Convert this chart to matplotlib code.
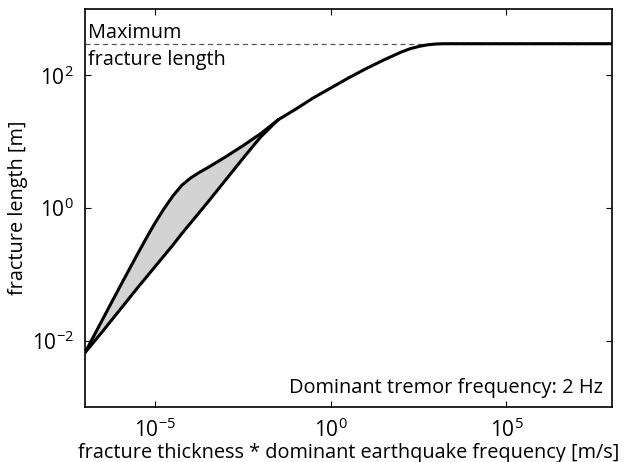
import numpy as np
import matplotlib
matplotlib.use('Agg')
import matplotlib.pyplot as plt

plt.rcParams['font.family'] = ['Open Sans', 'DejaVu Sans']
plt.rcParams['mathtext.default'] = 'regular'

# log10 of (fracture thickness * dominant earthquake frequency), branch part
branch_logx = [-7.0, -6.5, -6.0, -5.5, -5.25, -5.0, -4.75, -4.5, -4.25, -4.0, -3.75, -3.5, -3.0, -2.5, -2.0, -1.5]
# log10 of fracture length, upper and lower branches
upper_logy = [-2.18, -1.68, -1.18, -0.69, -0.45, -0.22, -0.01, 0.18, 0.34, 0.45, 0.535, 0.61, 0.77, 0.94, 1.12, 1.33]
lower_logy = [-2.18, -1.86, -1.53, -1.20, -1.04, -0.88, -0.72, -0.56, -0.39, -0.23, -0.07, 0.09, 0.42, 0.75, 1.07, 1.33]
# common part after the branches join
tail_logx = [-1.5, -1.0, -0.5, 0.0, 0.5, 1.0, 1.5, 1.75, 2.0, 2.25, 2.5, 2.75, 3.0, 3.25, 8.0]
tail_logy = [1.33, 1.49, 1.66, 1.81, 1.96, 2.10, 2.23, 2.29, 2.35, 2.40, 2.435, 2.46, 2.473, 2.477, 2.477]

max_length = 300.0
xlim = (1e-7, 1e8)
ylim = (1e-3, 1e3)

bx = 10.0 ** np.array(branch_logx)
up = 10.0 ** np.array(upper_logy)
lo = 10.0 ** np.array(lower_logy)
tx = 10.0 ** np.array(tail_logx)
ty = 10.0 ** np.array(tail_logy)

fig = plt.figure(figsize=(6.32, 4.62), dpi=100)
ax = fig.add_axes([0.1345, 0.119, 0.8335, 0.8615])

ax.plot(xlim, [max_length, max_length], color='#555555', linestyle='--', linewidth=0.9, dashes=(4, 3))
ax.fill_between(bx, lo, up, color='#d3d3d3', linewidth=0)
for yy in (up, lo):
    ax.plot(bx, yy, color='black', linewidth=2.2, solid_capstyle='round', solid_joinstyle='round')
ax.plot(tx, ty, color='black', linewidth=2.2, solid_capstyle='round', solid_joinstyle='round')

ax.set_xscale('log')
ax.set_yscale('log')
ax.set_xlim(xlim)
ax.set_ylim(ylim)
ax.set_xticks([1e-5, 1e0, 1e5])
ax.set_yticks([1e-2, 1e0, 1e2])
ax.minorticks_off()
ax.tick_params(direction='in', top=True, right=True, length=4, width=0.8, labelsize=15, pad=8)
for s in ax.spines.values():
    s.set_linewidth(1.2)

ax.set_xlabel('fracture thickness * dominant earthquake frequency [m/s]', fontsize=14.3, labelpad=1)
ax.set_ylabel('fracture length [m]', fontsize=14.3, labelpad=3)

ax.text(1.24e-7, 369, 'Maximum', fontsize=14.3, va='baseline', ha='left')
ax.text(1.24e-7, 145, 'fracture length', fontsize=14.3, va='baseline', ha='left')
ax.text(0.983, 0.034, 'Dominant tremor frequency: 2 Hz', fontsize=14.4, transform=ax.transAxes,
        ha='right', va='baseline')

fig.savefig('out.png', dpi=100)
